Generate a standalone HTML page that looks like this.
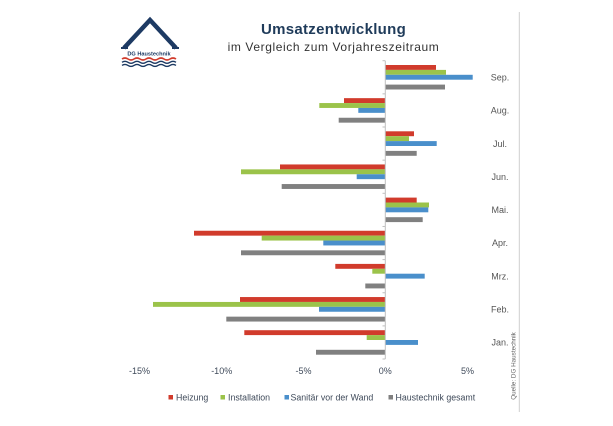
<!DOCTYPE html>
<html><head><meta charset="utf-8"><style>
html,body{margin:0;padding:0;background:#fff;}
svg{display:block;}
text{font-family:"Liberation Sans",sans-serif;}
</style></head><body>
<svg width="613" height="426" viewBox="0 0 613 426" xmlns="http://www.w3.org/2000/svg">
<rect width="613" height="426" fill="#fff"/>
<!-- logo -->
<polyline points="124,48 150,20 176,48" fill="none" stroke="#1d3a63" stroke-width="4.5" stroke-linejoin="miter"/>
<line x1="121" y1="48" x2="128" y2="48" stroke="#1d3a63" stroke-width="2"/>
<line x1="172" y1="48" x2="179" y2="48" stroke="#1d3a63" stroke-width="2"/>
<text x="149" y="55.5" font-size="5.6" font-weight="bold" fill="#1d3a63" text-anchor="middle">DG Haustechnik</text>
<path d="M122,59 q3,-2 6,0 t6,0 t6,0 t6,0 t6,0 t6,0 t6,0 t6,0 t6,0" fill="none" stroke="#d13b2c" stroke-width="1.6"/>
<path d="M122,62.3 q3,-2 6,0 t6,0 t6,0 t6,0 t6,0 t6,0 t6,0 t6,0 t6,0" fill="none" stroke="#1d3a63" stroke-width="1.4"/>
<path d="M122,65.4 q3,-2 6,0 t6,0 t6,0 t6,0 t6,0 t6,0 t6,0 t6,0 t6,0" fill="none" stroke="#1d3a63" stroke-width="1.4"/>
<!-- titles -->
<text x="333.5" y="34" font-size="15" font-weight="bold" fill="#1f3b5a" text-anchor="middle" letter-spacing="0.3">Umsatzentwicklung</text>
<text x="333.5" y="51" font-size="12" fill="#333" text-anchor="middle" letter-spacing="0.6">im Vergleich zum Vorjahreszeitraum</text>
<!-- right border line -->
<line x1="519.3" y1="12" x2="519.3" y2="412" stroke="#cfcfcf" stroke-width="1"/>
<text transform="translate(515.5,366) rotate(-90)" font-size="6.3" fill="#666" text-anchor="middle">Quelle: DG Haustechnik</text>
<g>
<!-- Sep -->
<rect x="385.3" y="65" width="50.7" height="4.9" fill="#d13b2c"/>
<rect x="385.3" y="69.9" width="60.7" height="4.9" fill="#9bc34a"/>
<rect x="385.3" y="74.8" width="87.4" height="4.9" fill="#4a8fcb"/>
<rect x="385.3" y="84.6" width="59.7" height="4.9" fill="#808080"/>
<!-- Aug -->
<rect x="344" y="98.15" width="41.3" height="4.9" fill="#d13b2c"/>
<rect x="319.3" y="103.05" width="66" height="4.9" fill="#9bc34a"/>
<rect x="358.3" y="107.95" width="27" height="4.9" fill="#4a8fcb"/>
<rect x="338.7" y="117.75" width="46.6" height="4.9" fill="#808080"/>
<!-- Jul -->
<rect x="385.3" y="131.3" width="28.7" height="4.9" fill="#d13b2c"/>
<rect x="385.3" y="136.2" width="23.7" height="4.9" fill="#9bc34a"/>
<rect x="385.3" y="141.1" width="51.4" height="4.9" fill="#4a8fcb"/>
<rect x="385.3" y="150.9" width="31.4" height="4.9" fill="#808080"/>
<!-- Jun -->
<rect x="280" y="164.45" width="105.3" height="4.9" fill="#d13b2c"/>
<rect x="241" y="169.35" width="144.3" height="4.9" fill="#9bc34a"/>
<rect x="356.7" y="174.25" width="28.6" height="4.9" fill="#4a8fcb"/>
<rect x="281.7" y="184.05" width="103.6" height="4.9" fill="#808080"/>
<!-- Mai -->
<rect x="385.3" y="197.6" width="31.4" height="4.9" fill="#d13b2c"/>
<rect x="385.3" y="202.5" width="43.7" height="4.9" fill="#9bc34a"/>
<rect x="385.3" y="207.4" width="43" height="4.9" fill="#4a8fcb"/>
<rect x="385.3" y="217.2" width="37.4" height="4.9" fill="#808080"/>
<!-- Apr -->
<rect x="194" y="230.75" width="191.3" height="4.9" fill="#d13b2c"/>
<rect x="261.7" y="235.65" width="123.6" height="4.9" fill="#9bc34a"/>
<rect x="323.3" y="240.55" width="62" height="4.9" fill="#4a8fcb"/>
<rect x="241" y="250.35" width="144.3" height="4.9" fill="#808080"/>
<!-- Mrz -->
<rect x="335.3" y="263.9" width="50" height="4.9" fill="#d13b2c"/>
<rect x="372.3" y="268.8" width="13" height="4.9" fill="#9bc34a"/>
<rect x="385.3" y="273.7" width="39.4" height="4.9" fill="#4a8fcb"/>
<rect x="365.3" y="283.5" width="20" height="4.9" fill="#808080"/>
<!-- Feb -->
<rect x="240" y="297.05" width="145.3" height="4.9" fill="#d13b2c"/>
<rect x="153" y="301.95" width="232.3" height="4.9" fill="#9bc34a"/>
<rect x="319" y="306.85" width="66.3" height="4.9" fill="#4a8fcb"/>
<rect x="226.3" y="316.65" width="159" height="4.9" fill="#808080"/>
<!-- Jan -->
<rect x="244.3" y="330.2" width="141" height="4.9" fill="#d13b2c"/>
<rect x="366.7" y="335.1" width="18.6" height="4.9" fill="#9bc34a"/>
<rect x="385.3" y="340" width="32.7" height="4.9" fill="#4a8fcb"/>
<rect x="316" y="349.8" width="69.3" height="4.9" fill="#808080"/>
</g>
<!-- axis -->
<line x1="385.3" y1="60.7" x2="385.3" y2="359" stroke="#bfbfbf" stroke-width="1"/>
<g stroke="#bfbfbf" stroke-width="1">
<line x1="382.5" y1="60.7" x2="385.3" y2="60.7"/>
<line x1="382.5" y1="93.85" x2="385.3" y2="93.85"/>
<line x1="382.5" y1="127" x2="385.3" y2="127"/>
<line x1="382.5" y1="160.15" x2="385.3" y2="160.15"/>
<line x1="382.5" y1="193.3" x2="385.3" y2="193.3"/>
<line x1="382.5" y1="226.45" x2="385.3" y2="226.45"/>
<line x1="382.5" y1="259.6" x2="385.3" y2="259.6"/>
<line x1="382.5" y1="292.75" x2="385.3" y2="292.75"/>
<line x1="382.5" y1="325.9" x2="385.3" y2="325.9"/>
<line x1="382.5" y1="359" x2="385.3" y2="359"/>
</g>
<!-- month labels -->
<g font-size="9" fill="#555" text-anchor="middle">
<text x="500" y="80.5">Sep.</text>
<text x="500" y="113.6">Aug.</text>
<text x="500" y="146.8">Jul.</text>
<text x="500" y="179.9">Jun.</text>
<text x="500" y="213">Mai.</text>
<text x="500" y="246.2">Apr.</text>
<text x="500" y="279.3">Mrz.</text>
<text x="500" y="312.5">Feb.</text>
<text x="500" y="345.6">Jan.</text>
</g>
<!-- x labels -->
<g font-size="9" fill="#3f4a5a" text-anchor="middle">
<text x="139.5" y="374">-15%</text>
<text x="221.7" y="374">-10%</text>
<text x="303.5" y="374">-5%</text>
<text x="385.3" y="374">0%</text>
<text x="467.5" y="374">5%</text>
</g>
<!-- legend -->
<g font-size="8.8" fill="#3f4a5a">
<rect x="168.5" y="395" width="4.5" height="4.5" fill="#d13b2c"/>
<text x="176" y="400.3">Heizung</text>
<rect x="220.5" y="395" width="4.5" height="4.5" fill="#9bc34a"/>
<text x="228" y="400.3">Installation</text>
<rect x="284.5" y="395" width="4.5" height="4.5" fill="#4a8fcb"/>
<text x="290.5" y="400.3">Sanitär vor der Wand</text>
<rect x="388.5" y="395" width="4.5" height="4.5" fill="#808080"/>
<text x="395.5" y="400.3">Haustechnik gesamt</text>
</g>
</svg>
</body></html>
